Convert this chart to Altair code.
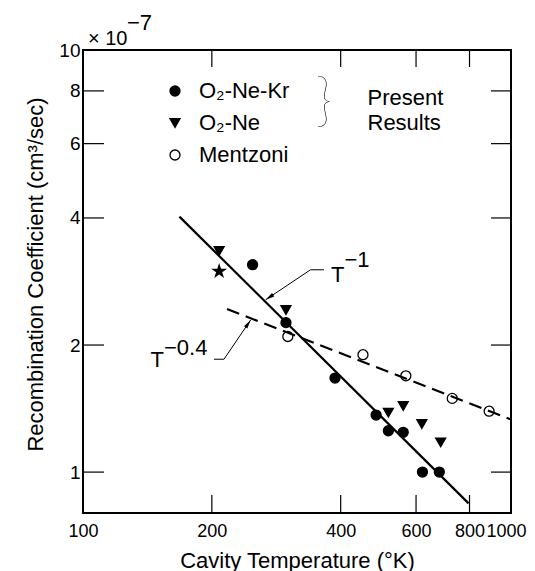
import altair as alt
import pandas as pd

# ---------------- data ----------------
series_names = ["O\u2082-Ne-Kr", "O\u2082-Ne", "Mentzoni"]

kr_T = [249, 298, 388, 484, 517, 560, 621, 680]          # O2-Ne-Kr (filled circles)
kr_v = [3.10, 2.26, 1.67, 1.365, 1.253, 1.242, 1.0, 1.0]

ne_T = [208, 298, 517, 560, 619, 685]                    # O2-Ne (filled down triangles)
ne_v = [3.34, 2.42, 1.383, 1.434, 1.30, 1.176]

mz_T = [301, 451, 568, 729, 889]                         # Mentzoni (open circles)
mz_v = [2.095, 1.897, 1.691, 1.495, 1.394]

star_T = [208]                                           # star point
star_v = [2.99]

line1_T = [168, 796]                                     # T^-1 line
line1_v = [4.03, 0.843]
line04_T = [217, 1000]                                   # T^-0.4 line (dashed)
line04_v = [2.434, 1.332]

x_ticks = [100, 200, 400, 600, 800, 1000]
y_ticks = [1, 2, 4, 6, 8, 10]
x_minor = [200, 400, 600, 800]
y_minor = [1, 2, 4, 6, 8]

# annotation leaders (in data units) pointing to the two fitted lines
lead_name = ["a", "a", "a", "b", "b", "b"]
lead_T = [365.6, 340, 267.2, 202.3, 213.5, 246.5]
lead_v = [3.015, 3.015, 2.56, 1.851, 1.851, 2.294]
tip_T = [267.2, 246.5]
tip_v = [2.56, 2.294]
tip_angle = [236, 34]

ann_text = ["T", "\u22121", "T", "\u22120.4"]
ann_T = [379.6, 408.3, 143.8, 154.6]
ann_v = [2.823, 3.064, 1.775, 1.895]

FONT = "Liberation Sans"
W, H = 428, 463
STAR = ("M0,-1L0.225,-0.309L0.951,-0.309L0.363,0.118L0.588,0.809L0,0.382"
        "L-0.588,0.809L-0.363,0.118L-0.951,-0.309L-0.225,-0.309Z")
ARROW = "M0,0L1,4.5L-1,4.5Z"

# ---------------- tables ----------------
pts = pd.DataFrame({
    "T": kr_T + ne_T + mz_T,
    "v": kr_v + ne_v + mz_v,
    "series": [series_names[0]] * len(kr_T) + [series_names[1]] * len(ne_T) + [series_names[2]] * len(mz_T),
})
star_df = pd.DataFrame({"T": star_T, "v": star_v})
l1_df = pd.DataFrame({"T": line1_T, "v": line1_v})
l04_df = pd.DataFrame({"T": line04_T, "v": line04_v})
lead_df = pd.DataFrame({"T": lead_T, "v": lead_v, "g": lead_name, "o": list(range(len(lead_T)))})
tip_df = pd.DataFrame({"T": tip_T, "v": tip_v, "a": tip_angle})
ann_df = pd.DataFrame({"T": ann_T, "v": ann_v, "t": ann_text})
xt_df = pd.DataFrame({"T": x_minor})
yt_df = pd.DataFrame({"v": y_minor})

xs = alt.Scale(type="log", domain=[100, 1000], nice=False)
ys = alt.Scale(type="log", domain=[0.8, 10], nice=False)

x_lab_axis = alt.Axis(orient="bottom", values=x_ticks, format="d", domain=False, ticks=False,
                      grid=False, labelFont=FONT, labelFontSize=18, labelColor="black",
                      labelPadding=9, labelFlush=True, labelFlushOffset=15, labelOverlap=False,
                      title="Cavity Temperature (\u00b0K)", titleFont=FONT, titleFontSize=22,
                      titleFontWeight="normal", titleColor="black",
                      titleBaseline="alphabetic", titleY=54)
y_lab_axis = alt.Axis(orient="left", values=y_ticks, format="d", domain=False, ticks=False,
                      grid=False, labelFont=FONT, labelFontSize=19, labelColor="black",
                      labelPadding=3, labelFlush=False, labelOverlap=False,
                      title="Recombination Coefficient   (cm\u00b3/sec)", titleFont=FONT,
                      titleFontSize=22, titleFontWeight="normal", titleColor="black",
                      titleBaseline="alphabetic", titleAngle=270, titleAlign="center",
                      titleX=-41, titleY=224)

leg = alt.Legend(title=None, orient="none", legendX=81, legendY=30, labelFont=FONT,
                 labelFontSize=22, labelColor="black", labelOffset=13, rowPadding=10,
                 symbolSize=100, symbolStrokeColor="black", symbolStrokeWidth=1.3,
                 padding=0, labelBaseline="middle")

# layers other than the points use the shared scales and leave the axes to the points layer
X = lambda: alt.X("T:Q", scale=xs)
Y = lambda: alt.Y("v:Q", scale=ys)

# inward ticks on all four sides
tick_style = dict(color="black", strokeWidth=1.2)
t_bottom = alt.Chart(xt_df).mark_rule(**tick_style).encode(x=X(), y=alt.value(H - 18), y2=alt.value(H))
t_top = alt.Chart(xt_df).mark_rule(**tick_style).encode(x=X(), y=alt.value(0), y2=alt.value(17))
t_left = alt.Chart(yt_df).mark_rule(**tick_style).encode(y=Y(), x=alt.value(0), x2=alt.value(21))
t_right = alt.Chart(yt_df).mark_rule(**tick_style).encode(y=Y(), x=alt.value(W - 20), x2=alt.value(W))

line1 = alt.Chart(l1_df).mark_line(color="black", strokeWidth=2.2).encode(x=X(), y=Y())
line04 = alt.Chart(l04_df).mark_line(color="black", strokeWidth=2.2, strokeDash=[13, 7]).encode(x=X(), y=Y())
leaders = alt.Chart(lead_df).mark_line(color="black", strokeWidth=1).encode(
    x=X(), y=Y(), detail="g:N", order="o:Q")
tips = alt.Chart(tip_df).mark_point(
    shape=ARROW, filled=True, color="black", opacity=1, size=16
).encode(x=X(), y=Y(), angle=alt.Angle("a:Q", scale=None))

points = alt.Chart(pts).mark_point(filled=True, strokeWidth=1.3, opacity=1, size=100).encode(
    x=alt.X("T:Q", scale=xs, axis=x_lab_axis),
    y=alt.Y("v:Q", scale=ys, axis=y_lab_axis),
    shape=alt.Shape("series:N", scale=alt.Scale(domain=series_names,
                                                range=["circle", "triangle-down", "circle"]), legend=leg),
    fill=alt.Fill("series:N", scale=alt.Scale(domain=series_names,
                                              range=["black", "black", "white"]), legend=leg),
    stroke=alt.Stroke("series:N", scale=alt.Scale(domain=series_names,
                                                  range=["black", "black", "black"]), legend=leg),
)
star = alt.Chart(star_df).mark_point(shape=STAR, filled=True, color="black", opacity=1, size=280).encode(
    x=X(), y=Y())
ann = alt.Chart(ann_df).mark_text(font=FONT, fontSize=22, align="left", baseline="alphabetic",
                                  color="black").encode(x=X(), y=Y(), text="t:N")


# texts placed in the frame around the legend and the scale factor
def label(txt, x, y, size=22, font=FONT, weight="normal", align="left", baseline="alphabetic"):
    return alt.Chart(pd.DataFrame({"t": [txt]})).mark_text(
        font=font, fontSize=size, fontWeight=weight, align=align, baseline=baseline, color="black"
    ).encode(text="t:N", x=alt.value(x), y=alt.value(y))


times = label("\u00d7 10", 5, -5, size=20)
expo = label("\u22127", 44, -20, size=22)
brace = label("}", 241, 53, size=58, font="Lato", weight=200, align="center", baseline="middle")
present = label("Present", 284.5, 54.5)
results = label("Results", 284.5, 80)

chart = alt.layer(
    points, t_bottom, t_top, t_left, t_right, line1, line04, leaders, tips, star, ann,
    times, expo, brace, present, results
).properties(
    width=W, height=H,
    autosize=alt.AutoSizeParams(type="none"),
    padding={"left": 75, "top": 42, "right": 16, "bottom": 58},
    background="white",
).configure_view(stroke="black", strokeWidth=2)

chart.save("out.html", embed_options={"renderer": "svg", "actions": False})
